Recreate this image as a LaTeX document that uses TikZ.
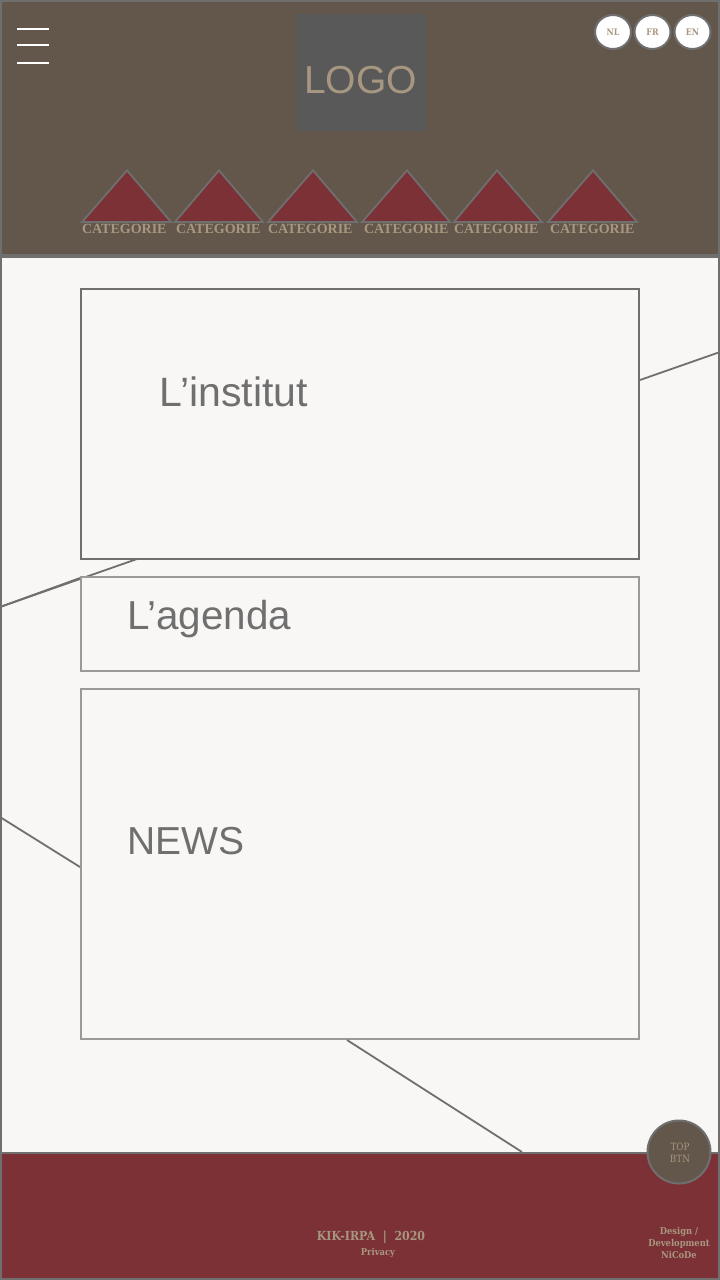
\documentclass[tikz,border=0pt]{standalone}
\usepackage{fontspec}
\setmainfont{Liberation Sans}
\newfontfamily\catfont{Liberation Serif}
\newfontfamily\slabfont[FakeStretch=0.88]{DejaVu Serif}
\usepackage{xcolor}
\usetikzlibrary{shapes.geometric}
\definecolor{headbrown}{HTML}{63564A}
\definecolor{wine}{HTML}{7B3136}
\definecolor{sand}{HTML}{A89780}
\definecolor{frame}{HTML}{6F6F6F}
\definecolor{paper}{HTML}{F8F7F5}
\definecolor{logogray}{HTML}{595959}

\begin{document}
\begin{tikzpicture}[
				x=1pt, y=-1pt,
				block/.style={draw=frame!70, fill=paper, rectangle, line width=1.8pt, minimum width=558pt, inner sep=0pt},
				blocktop/.style={block, draw=frame},
				title/.style={text=frame, anchor=base west, inner sep=0pt},
				langbtn/.style={draw=frame, fill=white, ellipse, line width=2pt, minimum width=36pt, minimum height=34pt,
						inner sep=0pt, text=sand, font=\slabfont\bfseries\fontsize{9}{9}\selectfont},
				catlbl/.style={text=sand, inner sep=0pt, font=\catfont\bfseries\fontsize{14}{14}\selectfont},
				footlbl/.style={text=sand, inner sep=0pt, align=center},
				burger/.style={draw=white, line width=2pt},
				deco/.style={draw=frame, line width=1.8pt},
			]
			\useasboundingbox (0,0) rectangle (720,1280);
			\fill[paper] (0,0) rectangle (720,1280);
			\fill[headbrown] (0,0) rectangle (720,254);
			\fill[frame] (0,254) rectangle (720,258);
			\fill[wine] (0,1153) rectangle (720,1280);
			\draw[frame, line width=2pt] (0,1153) -- (720,1153);
			% page edges
			\coordinate (r1) at (720,352);
			\coordinate (l1) at (640,380);
			\coordinate (l2) at (0,607);
			\coordinate (r2) at (137,559);
			\coordinate (l3) at (0,817);
			\coordinate (r3) at (80,867);
			\coordinate (l4) at (347,1040);
			\coordinate (r4) at (522,1152);
			\draw[deco] (l2) -- (r2);
			\node[blocktop, minimum height=270pt] (institut) at (360,424) {};
			\node[block, minimum height=94pt] (agenda) at (360,624) {};
			\node[block, minimum height=350pt] (news) at (360,864) {};
			\draw[deco] (l1) -- (r1);
			\draw[deco] (l2) -- (80,578);
			\draw[deco] (l3) -- (r3);
			\draw[deco] (l4) -- (r4);
			\node[title, font=\fontsize{41}{41}\selectfont] (tinstitut) at (159.5,406) {L’institut};
			\node[title, font=\fontsize{40.4}{41}\selectfont] (tagenda) at (127,629) {L’agenda};
			\node[title, font=\fontsize{39}{39}\selectfont] (tnews) at (127.5,854) {NEWS};
			% header
			\draw[burger] (17,29) -- (49,29);
			\draw[burger] (17,45) -- (49,45);
			\draw[burger] (17,63) -- (49,63);
			\node[fill=logogray, minimum width=130pt, minimum height=117pt, inner sep=0pt] (logobox) at (361,72.5) {};
			\node[text=sand, anchor=base, inner sep=0pt, font=\fontsize{39}{39}\selectfont] (logo) at (360.5,93.5) {LOGO};
			\node[langbtn] (nl) at (613,32) {NL};
			\node[langbtn] (fr) at (652.5,32) {FR};
			\node[langbtn] (en) at (692.5,32) {EN};
			\foreach \apex/\lft/\rgt/\lblx in {127/82/171/124.3, 219/175/263/218.3, 313/268/357/310.3, 407/362/450/406.3, 497/454/542/496.3, 593/548/637/592.3}{
				\draw[fill=wine, draw=frame, line width=1.8pt, line join=miter] (\apex,170.4) -- (\rgt,222) -- (\lft,222) -- cycle;
				\node[catlbl] (cat\apex) at (\lblx,229.2) {CATEGORIE};
			}
			% footer
			\node[draw=frame, fill=headbrown, circle, line width=2pt, minimum size=63pt, inner sep=0pt] (topbtn) at (679,1152) {};
			\node[footlbl, font=\slabfont\fontsize{10}{12}\selectfont] (toptxt) at (680,1152.5) {TOP\\BTN};
			\node[footlbl, font=\slabfont\bfseries\fontsize{12.5}{14}\selectfont] (kik) at (371,1237) {KIK-IRPA\ \ |\ \ 2020};
			\node[footlbl, font=\slabfont\bfseries\fontsize{9.5}{12}\selectfont] (privacy) at (378,1252.5) {Privacy};
			\node[footlbl, font=\slabfont\bfseries\fontsize{9.5}{12}\selectfont] (design) at (679,1242.5) {Design /\\Development\\NiCoDe};
			\draw[frame, line width=2pt] (1,1) rectangle (719,1279);
		\end{tikzpicture}
\end{document}
